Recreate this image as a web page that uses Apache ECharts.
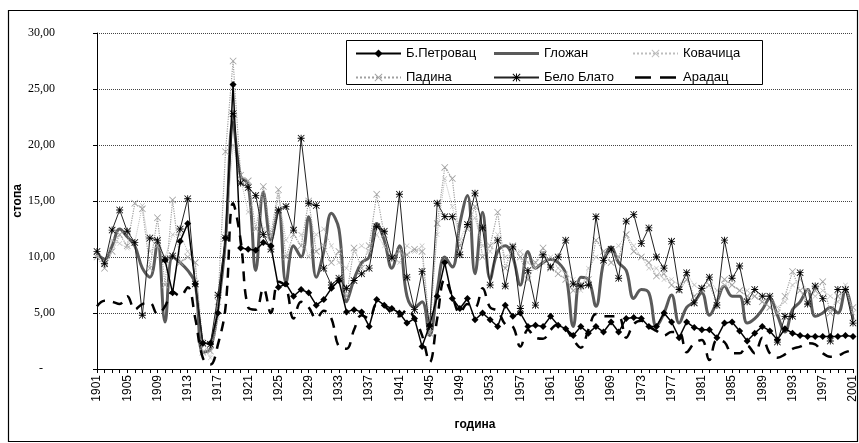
<!DOCTYPE html>
<html><head><meta charset="utf-8">
<script src="https://cdn.jsdelivr.net/npm/echarts@6/dist/echarts.min.js"></script>
<style>html,body{margin:0;padding:0;background:#fff}#c{width:859px;height:443px}</style>
</head><body><div id="c"></div>
<script>
var years = [];
for (var y = 1901; y <= 2001; y++) years.push(String(y));

var yTicks = [0, 5, 10, 15, 20, 25, 30];

var bPetrovac = [null,null,null,null,null,null,null,null,null,9.7, 6.8,11.4,13.0,7.6,2.3,2.3,5.0,11.7,25.4,10.8,
 10.7,10.6,11.3,11.0,7.3,7.6,6.5,7.1,6.8,5.7, 6.2,7.2,7.9,5.1,5.3,5.1,3.8,6.2,5.7,5.4,
 5.0,4.1,4.5,2.0,3.9,6.5,9.5,6.3,5.4,6.3, 4.4,5.0,4.4,3.8,5.7,4.7,5.0,3.8,3.9,3.8,
 4.7,3.9,3.6,3.0,3.8,3.2,3.8,3.3,4.2,3.3, 4.5,4.6,4.5,3.8,3.8,5.0,4.2,2.8,4.2,3.7,
 3.5,3.5,2.8,4.1,4.2,3.4,2.5,3.2,3.8,3.4, 2.6,3.6,3.2,3.0,2.9,2.9,2.9,2.9,2.9,3.0,2.9];

var glozhan = [10.3,9.8,11.0,12.5,11.8,11.0,9.0,8.2,11.3,4.2, 10.0,9.5,8.8,7.6,1.5,1.8,5.5,11.5,22.0,17.2,
 16.5,8.8,15.8,11.5,14.2,7.7,11.0,10.0,13.6,8.2, 10.5,13.9,12.5,6.0,8.0,9.5,10.0,13.0,11.5,9.0,
 11.0,6.5,5.5,6.0,3.0,7.0,10.0,9.1,13.0,15.5, 8.5,14.0,8.0,10.5,11.0,10.0,7.5,10.5,9.0,9.5,
 9.8,9.5,8.5,3.8,8.2,8.0,5.6,9.5,10.9,9.5, 8.8,6.3,7.1,6.8,3.8,5.0,6.6,4.1,5.5,6.0,
 6.8,4.8,6.0,7.4,6.5,6.5,4.1,4.5,5.3,6.3, 4.8,3.3,5.3,6.0,7.1,4.7,5.0,5.5,5.0,7.1,4.4];

var kovacica = [10.2,9.5,11.5,11.2,10.8,11.3,14.6,10.5,11.0,10.0, 12.0,12.0,10.5,9.5,2.5,1.0,4.5,12.0,20.0,17.0,
 14.0,15.5,12.5,11.0,15.5,11.5,12.5,12.0,10.0,12.0, 12.5,11.0,9.5,9.0,10.5,11.0,10.5,12.0,11.0,10.0,
 9.5,11.0,10.5,11.0,4.0,12.0,17.0,14.5,11.5,13.0, 13.5,11.0,10.5,12.0,10.0,10.5,10.5,9.5,9.0,9.5,
 10.0,9.0,8.5,8.0,7.0,9.0,10.0,9.5,10.5,11.0, 12.0,11.0,10.0,9.0,9.0,8.0,8.0,7.5,8.5,7.5,
 7.0,8.0,7.0,7.5,7.5,7.0,7.0,6.5,6.0,6.5, 5.5,6.0,7.5,8.0,7.0,6.5,7.0,6.5,6.0,7.5,5.0];

var padina = [10.0,9.0,10.5,12.0,11.0,14.8,14.3,9.0,13.5,7.5, 15.1,9.5,10.0,9.5,1.5,1.6,6.0,19.4,27.5,17.3,
 16.8,12.5,16.3,12.0,16.0,10.0,12.0,11.0,15.0,10.5, 11.0,9.5,10.5,6.5,10.8,9.0,11.0,15.6,12.0,10.0,
 10.5,10.2,10.7,10.5,3.2,13.0,18.0,17.0,11.0,12.5, 14.5,10.0,11.0,14.0,9.0,11.0,10.0,8.0,9.5,10.8,
 9.0,8.5,8.0,7.0,7.5,8.0,11.5,10.5,9.5,10.0, 12.0,10.5,10.0,9.5,8.3,8.5,7.5,7.0,8.0,6.5,
 7.0,7.5,6.0,8.0,7.5,7.0,6.5,6.5,6.0,5.5, 5.0,6.5,8.7,7.0,6.0,7.0,7.8,5.0,6.5,7.0,5.5];

var beloBlato = [10.5,9.4,12.4,14.2,12.3,11.3,4.8,11.7,11.5,9.8, 10.1,12.5,15.2,7.6,2.3,2.2,6.6,11.7,22.8,16.6,
 16.2,15.5,12.0,10.7,14.2,14.5,12.4,20.6,14.8,14.6, 9.0,7.5,8.1,7.2,7.9,8.5,9.0,12.7,12.3,9.9,
 15.6,8.2,5.3,8.7,3.8,14.8,13.6,13.6,10.2,12.9, 15.7,12.6,7.5,11.5,7.4,10.9,5.4,8.8,5.7,10.2,
 9.1,10.0,11.5,7.6,7.4,7.5,13.6,9.7,10.7,8.1, 13.2,13.8,11.2,12.6,10.0,9.0,11.4,7.1,8.6,5.9,
 7.2,8.2,5.7,11.5,8.1,9.2,6.0,7.1,6.5,6.5, 2.4,4.7,4.7,8.6,5.8,7.4,6.3,2.5,7.1,7.1,4.1];

var aradac = [5.6,6.1,6.0,5.8,6.5,5.3,5.8,5.9,4.9,5.6, 6.9,6.5,7.3,4.5,1.0,0.4,2.2,5.5,14.8,11.5,
 5.5,5.3,7.2,5.0,7.8,7.3,4.5,6.0,5.5,4.5, 5.2,4.5,2.0,1.8,3.5,4.8,4.5,5.8,5.6,5.0,
 4.7,5.3,4.5,3.0,0.6,4.5,8.0,6.5,5.0,5.8, 5.5,7.2,5.5,5.2,4.0,3.8,2.0,3.5,2.8,2.7,
 3.5,4.0,3.6,2.6,1.9,3.5,4.9,4.7,4.7,4.7, 2.8,4.0,4.3,3.8,3.4,3.0,3.3,3.3,1.5,2.3,
 2.6,0.8,2.6,2.4,1.4,1.4,2.1,1.4,2.8,1.4, 1.0,1.3,1.8,2.0,2.3,2.2,1.4,1.1,1.2,1.5,1.7];

var names = ['Б.Петровац','Гложан','Ковачица','Падина','Бело Блато','Арадац'];

var starPath = 'path://M0,4.4 L10,4.4 L10,5.6 L0,5.6 Z M0.8,0 L10,9.2 L9.2,10 L0,0.8 Z M9.2,0 L10,0.8 L0.8,10 L0,9.2 Z M4.4,0 L5.6,0 L5.6,10 L4.4,10 Z';
var crossPath = 'path://M0.8,0 L10,9.2 L9.2,10 L0,0.8 Z M9.2,0 L10,0.8 L0.8,10 L0,9.2 Z';
// legend icons with invisible corner specks so the bar keeps its thickness
var solidBarIcon = 'path://M0,0 L0.01,0 L0,0.01 Z M0,3.5 L45,3.5 L45,6.5 L0,6.5 Z M45,10 L44.99,10 L45,9.99 Z';
var dashBarIcon = 'path://M0,0 L0.01,0 L0,0.01 Z M2,3.7 L18,3.7 L18,6.3 L2,6.3 Z M27,3.7 L43,3.7 L43,6.3 L27,6.3 Z M45,10 L44.99,10 L45,9.99 Z';

var chart = echarts.init(document.getElementById('c'), null, {renderer:'canvas'});
var legendText = {fontFamily:'Arial, "Liberation Sans", sans-serif', fontSize:13, color:'#000'};
function lg(left, data){
  return {orient:'vertical', left:left, top:47, padding:0, itemWidth:45, itemHeight:10, itemGap:11, z:20,
    textStyle:legendText, data:data, selectedMode:false};
}
chart.setOption({
  animation:false,
  backgroundColor:'#fff',
  graphic:[
    {type:'rect', shape:{x:8.5,y:10.5,width:849,height:431}, style:{fill:'none',stroke:'#000',lineWidth:1.2}, silent:true, z:-1},
    {type:'rect', shape:{x:346.5,y:40.5,width:416,height:44}, style:{fill:'#fff',stroke:'#000',lineWidth:1}, silent:true, z:6}
  ],
  legend:[
    lg(355,['Б.Петровац','Падина']),
    lg(493,[{name:'Гложан', icon:solidBarIcon, itemStyle:{color:'#5a5a5a'}},'Бело Блато']),
    lg(632,['Ковачица',{name:'Арадац', icon:dashBarIcon, itemStyle:{color:'#000'}}])
  ],
  grid:{left:97, right:2, top:33, bottom:74, containLabel:false},
  xAxis:{
    type:'category', data:years, boundaryGap:false,
    axisLine:{lineStyle:{color:'#000',width:1}},
    axisTick:{show:true, interval:0, length:4, lineStyle:{color:'#000'}},
    axisLabel:{interval:3, rotate:90, margin:6, fontFamily:'Arial, "Liberation Sans", sans-serif', fontSize:12, color:'#000'},
    name:'година', nameLocation:'middle', nameGap:50, nameMoveOverlap:false,
    nameTextStyle:{fontFamily:'Arial, "Liberation Sans", sans-serif', fontWeight:'bold', fontSize:12, color:'#000'},
    splitLine:{show:false}
  },
  yAxis:{
    type:'value', min:yTicks[0], max:yTicks[yTicks.length-1], interval:5,
    axisLine:{show:true, lineStyle:{color:'#000',width:1}},
    axisTick:{show:true, length:4, inside:false, lineStyle:{color:'#000'}},
    axisLabel:{margin:42, fontFamily:'"Liberation Serif", "Times New Roman", serif', fontSize:12, color:'#000',
      formatter:function(v){ return v===0 ? '-    ' : v.toFixed(2).replace('.', ','); }},
    splitLine:{show:true, lineStyle:{type:'dotted', color:'#444', width:1}},
    name:'стопа', nameLocation:'middle', nameGap:73, nameRotate:90, nameMoveOverlap:false,
    nameTextStyle:{fontFamily:'Arial, "Liberation Sans", sans-serif', fontWeight:'bold', fontSize:12, color:'#000'}
  },
  series:[
    {name:names[0], type:'line', data:bPetrovac, symbol:'diamond', symbolSize:7, showAllSymbol:true,
      lineStyle:{color:'#000', width:1.5}, itemStyle:{color:'#000'}, z:3},
    {name:names[1], type:'line', data:glozhan, symbol:'none', smooth:0.4,
      lineStyle:{color:'#5a5a5a', width:3}, itemStyle:{color:'#5a5a5a'}, z:2},
    {name:names[2], type:'line', data:kovacica, symbol:crossPath, symbolSize:5, showAllSymbol:true,
      lineStyle:{color:'#bdbdbd', width:1, type:'dotted'}, itemStyle:{color:'#bdbdbd'}, z:2},
    {name:names[3], type:'line', data:padina, symbol:crossPath, symbolSize:7, showAllSymbol:true,
      lineStyle:{color:'#a0a0a0', width:1.2, type:'dotted'}, itemStyle:{color:'#a0a0a0'}, z:2},
    {name:names[4], type:'line', data:beloBlato, symbol:starPath, symbolSize:7, showAllSymbol:true,
      lineStyle:{color:'#222', width:1}, itemStyle:{color:'#000'}, z:3},
    {name:names[5], type:'line', data:aradac, symbol:'none', smooth:0.4,
      lineStyle:{color:'#000', width:2.5, type:[10,8]}, itemStyle:{color:'#000'}, z:4}
  ]
});
</script></body></html>
